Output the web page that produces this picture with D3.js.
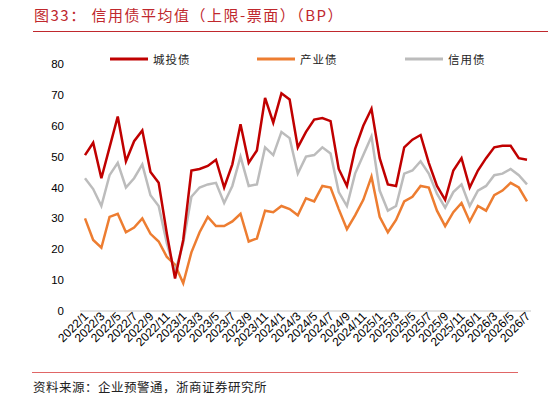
<!DOCTYPE html>
<html><head><meta charset="utf-8">
<script src="https://cdn.jsdelivr.net/npm/d3@7"></script>
<style>body{margin:0;background:#fff}text{font-family:"Noto Sans CJK SC",sans-serif}</style>
</head><body><svg id="c" width="548" height="403"></svg>
<script>
// months 2022/1 .. 2026/7
var months = [];
for (var y = 2022; y <= 2026; y++) for (var m = 1; m <= 12; m++) if (!(y === 2026 && m > 7)) months.push(y + '/' + m);

var chengtou = [50.5,54.5,43,53,63,48.5,55,58.5,45,41.5,25,10.5,23,45.5,46,47,49,40,47.5,60.5,
  48,52,69,61,70.5,68.5,53,58,62,62.5,61.5,46,40.5,52.5,60,65.5,49.5,41,40.5,53,
  55.5,57,48,40.5,36,45.5,49.5,40,45.5,49.5,53,53.5,53.5,49.5,49];
var chanye = [30,23,20.5,30.5,31.5,25.5,27,30,25,22.5,17.5,15,9,19,25.5,30.5,27.5,27.5,29,31.5,
  22.5,23.5,32.5,32,34,33,31,36.5,35.5,40.5,40,33,26.5,31,36,43.5,30.5,25.5,29.5,35.5,
  37,40.5,40,32.5,27.5,32,35,29,34,32.5,37.5,39,41.5,40,35.5];
var xinyong = [43,39.5,34,44,48,40,43,47.5,37.5,34,22,12.5,22,37,40,41,41.5,35,40.5,50,
  40.5,41,53,50.5,58,56,44.5,50,50.5,53,51,38.5,34,44.5,50.5,56.5,39,32.5,34,44.5,
  45.5,48.5,44.5,38,33.5,38.5,41,34,39,40.5,44,44.5,46,44,41];
var yTicks = [0,10,20,30,40,50,60,70,80];
var series = [
  {name: '城投债', data: chengtou, color: '#c00000'},
  {name: '产业债', data: chanye, color: '#ed7d31'},
  {name: '信用债', data: xinyong, color: '#bcbcbc'}
];
var drawOrder = [series[1], series[2], series[0]];

var svg = d3.select('#c');
var x = d3.scalePoint().domain(months).range([85, 527]);
var y = d3.scaleLinear().domain([0, 80]).range([311, 64]);

svg.append('text').attr('x', 34).attr('y', 21).attr('fill', '#c0282d')
  .style('font-size', '15px').style('letter-spacing', '1.5px')
  .text('图33：  信用债平均值（上限-票面）（BP）');
svg.append('line').attr('x1', 33).attr('x2', 548).attr('y1', 31.5).attr('y2', 31.5)
  .attr('stroke', '#c0282d').attr('stroke-width', 1);

svg.selectAll('.yl').data(yTicks).enter().append('text')
  .attr('x', 64).attr('y', function(d) { return y(d) + 4; })
  .attr('text-anchor', 'end').style('font-size', '11.5px').attr('fill', '#000')
  .style('font-family', 'Arial, "Liberation Sans", sans-serif')
  .text(function(d) { return d; });

svg.append('line').attr('x1', 80).attr('x2', 531).attr('y1', 311).attr('y2', 311)
  .attr('stroke', '#d9d9d9').attr('stroke-width', 1.5);

var line = d3.line().x(function(d, i) { return x(months[i]); }).y(function(d) { return y(d); });
drawOrder.forEach(function(s) {
  svg.append('path').attr('d', line(s.data)).attr('fill', 'none')
    .attr('stroke', s.color).attr('stroke-width', 2.5).attr('stroke-linejoin', 'miter');
});

svg.selectAll('.xl').data(months.filter(function(d, i) { return i % 2 === 0; })).enter().append('text')
  .attr('transform', function(d) { return 'translate(' + (x(d) + 4) + ',317) rotate(-45)'; })
  .attr('text-anchor', 'end').style('font-size', '12px').attr('fill', '#000')
  .style('font-family', 'Arial, "Liberation Sans", sans-serif')
  .text(function(d) { return d; });

var legX = [110, 257, 405];
series.forEach(function(s, i) {
  svg.append('line').attr('x1', legX[i]).attr('x2', legX[i] + 38).attr('y1', 59).attr('y2', 59)
    .attr('stroke', s.color).attr('stroke-width', 3);
  svg.append('text').attr('x', legX[i] + 43).attr('y', 63.5).style('font-size', '11.5px')
    .style('letter-spacing', '1px').attr('fill', '#222').text(s.name);
});

svg.append('line').attr('x1', 32).attr('x2', 518).attr('y1', 372.5).attr('y2', 372.5)
  .attr('stroke', '#e06666').attr('stroke-width', 1);
svg.append('text').attr('x', 33).attr('y', 392).style('font-size', '12.5px').attr('fill', '#222')
  .style('letter-spacing', '0.5px')
  .text('资料来源：企业预警通，浙商证券研究所');
</script></body></html>
